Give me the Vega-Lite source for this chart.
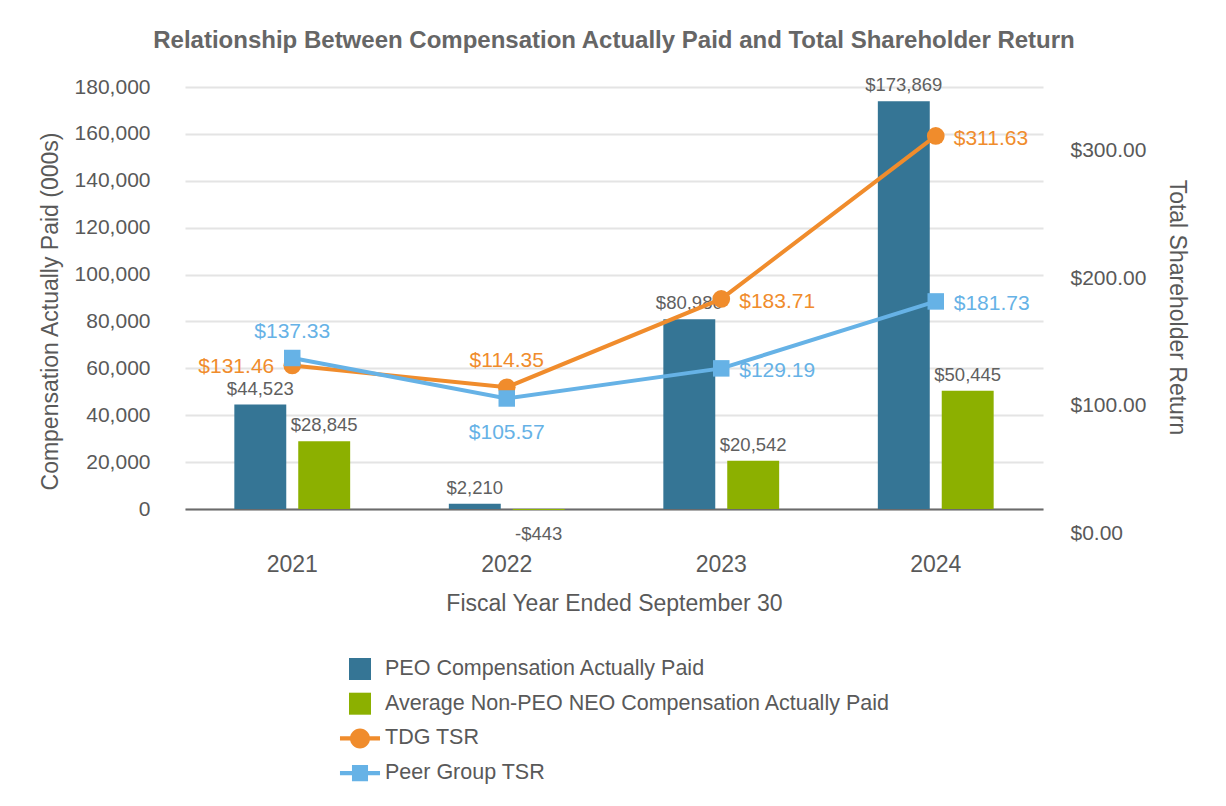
{
  "$schema": "https://vega.github.io/schema/vega-lite/v6.json",
  "width": 858,
  "height": 422,
  "autosize": {"type": "none"},
  "padding": {"left": 185, "top": 87, "right": 183, "bottom": 297},
  "background": "white",
  "title": {
    "text": "Relationship Between Compensation Actually Paid and Total Shareholder Return",
    "fontSize": 24,
    "fontWeight": "bold",
    "color": "#666666",
    "frame": "group",
    "anchor": "middle",
    "offset": 23
  },
  "datasets": {
    "comp": [
      {"year": "2021", "series": "PEO Compensation Actually Paid", "value": 44523},
      {"year": "2021", "series": "Average Non-PEO NEO Compensation Actually Paid", "value": 28845},
      {"year": "2022", "series": "PEO Compensation Actually Paid", "value": 2210},
      {"year": "2022", "series": "Average Non-PEO NEO Compensation Actually Paid", "value": -443},
      {"year": "2023", "series": "PEO Compensation Actually Paid", "value": 80980},
      {"year": "2023", "series": "Average Non-PEO NEO Compensation Actually Paid", "value": 20542},
      {"year": "2024", "series": "PEO Compensation Actually Paid", "value": 173869},
      {"year": "2024", "series": "Average Non-PEO NEO Compensation Actually Paid", "value": 50445}
    ],
    "tsr": [
      {"year": "2021", "series": "TDG TSR", "tsr": 131.46},
      {"year": "2022", "series": "TDG TSR", "tsr": 114.35},
      {"year": "2023", "series": "TDG TSR", "tsr": 183.71},
      {"year": "2024", "series": "TDG TSR", "tsr": 311.63},
      {"year": "2021", "series": "Peer Group TSR", "tsr": 137.33},
      {"year": "2022", "series": "Peer Group TSR", "tsr": 105.57},
      {"year": "2023", "series": "Peer Group TSR", "tsr": 129.19},
      {"year": "2024", "series": "Peer Group TSR", "tsr": 181.73}
    ]
  },
  "layer": [
    {
      "data": {"name": "comp"},
      "encoding": {
        "x": {
          "field": "year",
          "type": "nominal",
          "scale": {"paddingInner": 0.46, "paddingOuter": 0.23},
          "axis": {
            "title": "Fiscal Year Ended September 30",
            "labelAngle": 0,
            "labelFontSize": 23,
            "labelColor": "#595959",
            "labelPadding": 44,
            "ticks": false,
            "domainColor": "#6b6b6b",
            "domainWidth": 2,
            "grid": false,
            "titleFontSize": 23,
            "titleFontWeight": "normal",
            "titleColor": "#595959",
            "titleBaseline": "alphabetic",
            "titleY": 101
          }
        },
        "xOffset": {
          "field": "series",
          "type": "nominal",
          "scale": {
            "domain": ["PEO Compensation Actually Paid", "Average Non-PEO NEO Compensation Actually Paid"],
            "paddingInner": 0.1875,
            "paddingOuter": 0
          }
        },
        "y": {
          "field": "value",
          "type": "quantitative",
          "scale": {"domain": [0, 180000], "nice": false},
          "axis": {
            "title": "Compensation Actually Paid (000s)",
            "values": [0, 20000, 40000, 60000, 80000, 100000, 120000, 140000, 160000, 180000],
            "format": ",d",
            "labelFontSize": 21,
            "labelColor": "#595959",
            "labelPadding": 35,
            "ticks": false,
            "domain": false,
            "grid": true,
            "gridColor": "#e4e4e4",
            "gridWidth": 2,
            "titleFontSize": 23,
            "titleFontWeight": "normal",
            "titleColor": "#595959",
            "titleX": -128,
            "titleY": 224,
            "titleAngle": -90,
            "titleAlign": "center",
            "titleBaseline": "alphabetic"
          }
        }
      },
      "layer": [
        {
          "mark": {"type": "bar"},
          "encoding": {
            "color": {
              "field": "series",
              "type": "nominal",
              "scale": {
                "domain": ["PEO Compensation Actually Paid", "Average Non-PEO NEO Compensation Actually Paid", "TDG TSR", "Peer Group TSR"],
                "range": ["#357595", "#8cb000", "#f08c2c", "#66b2e6"]
              },
              "legend": {
                "orient": "none",
                "legendX": 164,
                "legendY": 571,
                "direction": "vertical",
                "title": null,
                "labelFontSize": 21.5,
                "labelColor": "#595959",
                "labelLimit": 0,
                "symbolSize": 484,
                "rowPadding": 12.7,
                "labelOffset": 14,
                "padding": 0,
                "symbolStrokeWidth": 0,
                "encode": {
                  "symbols": {
                    "update": {
                      "shape": {"signal": "datum.value == 'TDG TSR' ? 'M-1.82,-0.2L1.82,-0.2L1.82,0.2L-1.82,0.2Z M0.91,0A0.91,0.91,0,1,1,-0.91,0A0.91,0.91,0,1,1,0.91,0Z' : (datum.value == 'Peer Group TSR' ? 'M-1.82,-0.2L1.82,-0.2L1.82,0.2L-1.82,0.2Z M-0.73,-0.73L0.73,-0.73L0.73,0.73L-0.73,0.73Z' : 'square')"},
                      "fill": {"scale": "color", "field": "value"},
                      "stroke": {"value": "transparent"},
                      "opacity": {"value": 1}
                    }
                  }
                }
              }
            }
          }
        },
        {
          "transform": [{"filter": "datum.value >= 0"}],
          "mark": {"type": "text", "baseline": "alphabetic", "dy": -10, "fontSize": 18.5, "color": "#5f5f5f"},
          "encoding": {"text": {"field": "value", "type": "quantitative", "format": "$,.0f"}}
        },
        {
          "transform": [{"filter": "datum.value < 0"}],
          "mark": {"type": "text", "baseline": "alphabetic", "dy": 30, "fontSize": 18.5, "color": "#5f5f5f"},
          "encoding": {"text": {"field": "value", "type": "quantitative", "format": "$,.0f"}}
        }
      ]
    },
    {
      "data": {"name": "tsr"},
      "encoding": {
        "x": {"field": "year", "type": "nominal"},
        "y": {
          "field": "tsr",
          "type": "quantitative",
          "scale": {"domain": [0, 350], "range": [446, 0], "nice": false},
          "axis": {
            "orient": "right",
            "title": "Total Shareholder Return",
            "values": [0, 100, 200, 300],
            "format": "$,.2f",
            "labelFontSize": 21,
            "labelColor": "#595959",
            "labelPadding": 27,
            "ticks": false,
            "domain": false,
            "grid": false,
            "titleFontSize": 23,
            "titleFontWeight": "normal",
            "titleColor": "#595959",
            "titleX": 126,
            "titleY": 220,
            "titleAngle": 90,
            "titleAlign": "center",
            "titleBaseline": "alphabetic"
          }
        },
        "color": {"field": "series", "type": "nominal"}
      },
      "layer": [
        {
          "transform": [{"filter": "datum.series == 'TDG TSR'"}],
          "mark": {"type": "line", "strokeWidth": 4}
        },
        {
          "transform": [{"filter": "datum.series == 'TDG TSR'"}],
          "mark": {"type": "point", "shape": "circle", "filled": true, "size": 314, "opacity": 1, "strokeWidth": 0}
        },
        {
          "transform": [{"filter": "datum.series == 'Peer Group TSR'"}],
          "mark": {"type": "line", "strokeWidth": 4}
        },
        {
          "transform": [{"filter": "datum.series == 'Peer Group TSR'"}],
          "mark": {"type": "point", "shape": "square", "filled": true, "size": 272, "opacity": 1, "strokeWidth": 0}
        },
        {
          "transform": [{"filter": "datum.year == '2023' || datum.year == '2024'"}],
          "mark": {"type": "text", "align": "left", "baseline": "alphabetic", "dx": 18, "dy": 9, "fontSize": 21},
          "encoding": {"text": {"field": "tsr", "type": "quantitative", "format": "$,.2f"}}
        },
        {
          "transform": [{"filter": "datum.year == '2021' && datum.series == 'TDG TSR'"}],
          "mark": {"type": "text", "align": "right", "baseline": "alphabetic", "dx": -18, "dy": 8, "fontSize": 21},
          "encoding": {"text": {"field": "tsr", "type": "quantitative", "format": "$,.2f"}}
        },
        {
          "transform": [{"filter": "(datum.year == '2021' && datum.series == 'Peer Group TSR') || (datum.year == '2022' && datum.series == 'TDG TSR')"}],
          "mark": {"type": "text", "align": "center", "baseline": "alphabetic", "dy": -20, "fontSize": 21},
          "encoding": {"text": {"field": "tsr", "type": "quantitative", "format": "$,.2f"}}
        },
        {
          "transform": [{"filter": "datum.year == '2022' && datum.series == 'Peer Group TSR'"}],
          "mark": {"type": "text", "align": "center", "baseline": "alphabetic", "dy": 41, "fontSize": 21},
          "encoding": {"text": {"field": "tsr", "type": "quantitative", "format": "$,.2f"}}
        }
      ]
    }
  ],
  "resolve": {"scale": {"y": "independent"}},
  "config": {
    "font": "Liberation Sans",
    "view": {"stroke": null},
    "locale": {"number": {"decimal": ".", "thousands": ",", "grouping": [3], "currency": ["$", ""], "minus": "-"}}
  }
}
